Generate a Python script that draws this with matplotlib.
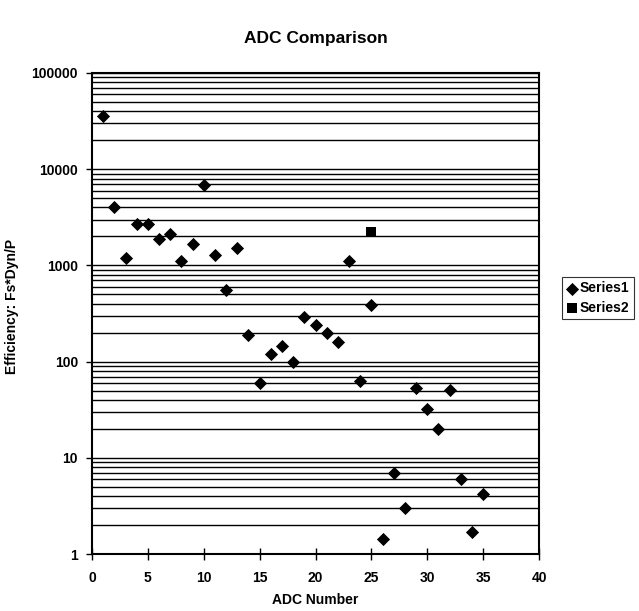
import matplotlib
matplotlib.use("Agg")
import matplotlib.pyplot as plt
from matplotlib.ticker import LogLocator, NullFormatter, FixedLocator

plt.rcParams['font.family'] = ['Liberation Sans', 'DejaVu Sans']

adc_numbers = list(range(1, 36))
series1 = [36000, 4000, 1200, 2700, 2700, 1900, 2100, 1100, 1650, 6800,
           1280, 560, 1500, 190, 60, 120, 145, 100, 290, 240,
           200, 160, 1100, 63, 390, 1.43, 6.9, 3.0, 53, 32,
           20, 51, 6.0, 1.7, 4.2]
series2_x = [25]
series2_y = [2200]
x_ticks = [0, 5, 10, 15, 20, 25, 30, 35, 40]
y_ticks = [1, 10, 100, 1000, 10000, 100000]

fig = plt.figure(figsize=(6.39, 6.11), dpi=100)
W, H = 639, 611
ax = fig.add_axes([92 / W, 1 - 554 / H, (539 - 92) / W, (554 - 73) / H])

ax.set_yscale('log')
ax.set_xlim(0, 40)
ax.set_ylim(1, 100000)

ax.yaxis.set_major_locator(FixedLocator(y_ticks))
ax.yaxis.set_minor_locator(LogLocator(base=10, subs=range(2, 10)))
ax.yaxis.set_minor_formatter(NullFormatter())
ax.set_yticks(y_ticks)
ax.set_yticklabels([str(v) for v in y_ticks])
ax.set_xticks(x_ticks)

ax.grid(True, which='both', axis='y', color='black', linewidth=1.0)
ax.set_axisbelow(True)

ax.scatter(adc_numbers, series1, marker='D', s=45, color='black', zorder=3,
           label='Series1', linewidths=0)
ax.scatter(series2_x, series2_y, marker='s', s=50, color='black', zorder=3,
           label='Series2', linewidths=0)

for s in ax.spines.values():
    s.set_linewidth(1.5)
    s.set_color('black')

ax.tick_params(axis='y', which='major', direction='out', length=4, width=1,
               labelsize=10, pad=6)
ax.tick_params(axis='y', which='minor', length=0)
ax.tick_params(axis='x', which='major', direction='inout', length=8, width=1,
               labelsize=10, pad=8)
for lbl in ax.get_xticklabels() + ax.get_yticklabels():
    lbl.set_fontweight('bold')

ax.set_xlabel('ADC Number', fontsize=10, fontweight='bold')
ax.xaxis.set_label_coords(0.5, -0.081)
ax.set_ylabel('Efficiency: Fs*Dyn/P', fontsize=10, fontweight='bold')
ax.yaxis.set_label_coords(-0.163, 0.515)
fig.text(0.5 * (92 + 539) / W, 1 - 38 / H, 'ADC Comparison', ha='center', va='center',
         fontsize=12.5, fontweight='bold')

leg = fig.legend(loc='center left', bbox_to_anchor=(562 / W, 1 - 298 / H),
                 frameon=True, fancybox=False, edgecolor='black', fontsize=10,
                 handletextpad=0.1, handlelength=0.9, borderpad=0.3,
                 labelspacing=0.4, borderaxespad=0)
leg.get_frame().set_linewidth(0.8)
for t in leg.get_texts():
    t.set_fontweight('bold')

fig.savefig('out.png', dpi=100)
